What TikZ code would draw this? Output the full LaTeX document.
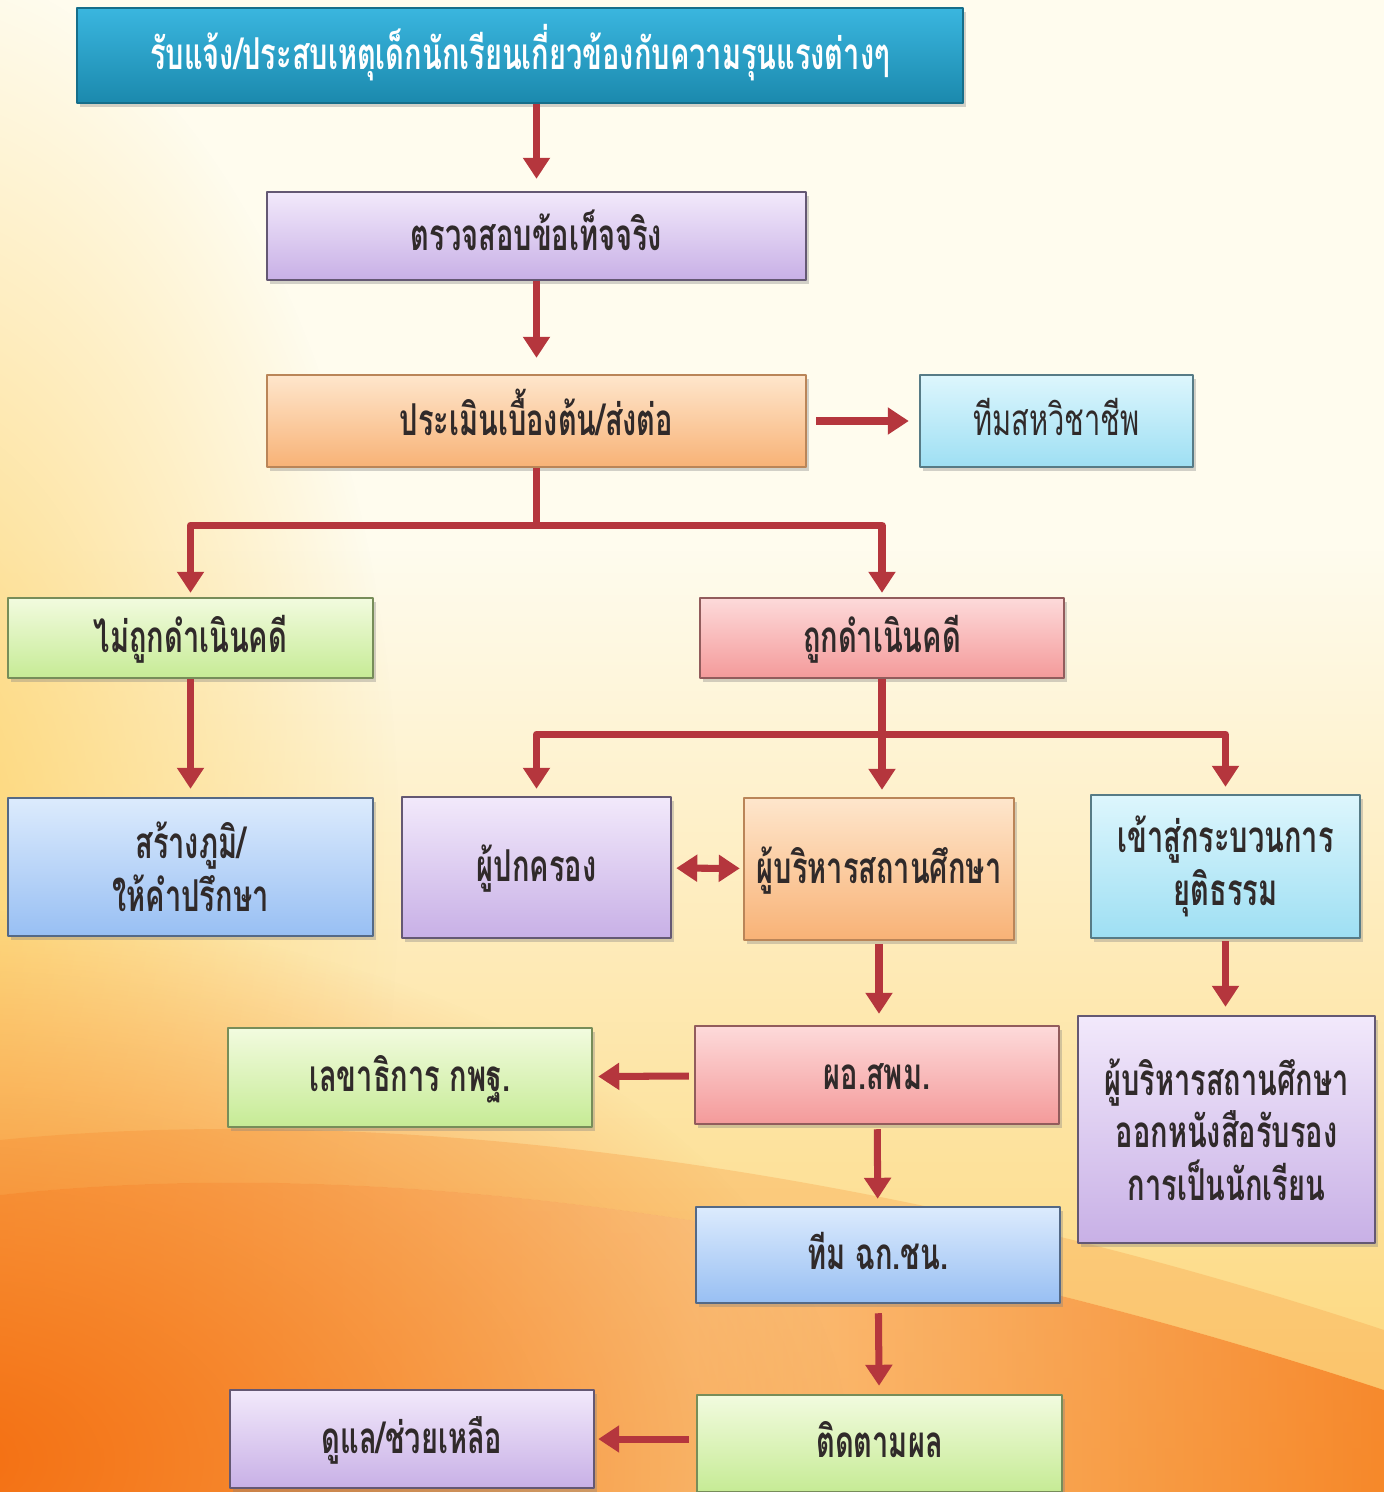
\documentclass[tikz,border=0pt]{standalone}
\usepackage{fontspec}
\newfontfamily\thaifont[Script=Thai,FakeStretch=0.66]{Loma}
\usetikzlibrary{arrows.meta,shadows,fadings}

% Colours
\definecolor{bgcream}{HTML}{FFFCEE}
\definecolor{bgyellow}{HTML}{FDD470}
\definecolor{bgorange}{HTML}{F9A24A}
\definecolor{bgdeep}{HTML}{F46F12}
\definecolor{flowred}{HTML}{B5363D}
\definecolor{txtgrey}{HTML}{302A2A}
\definecolor{tealtop}{HTML}{3AB6DF}
\definecolor{tealbot}{HTML}{1B89AD}
\definecolor{lavtop}{HTML}{F2E9FB}
\definecolor{lavbot}{HTML}{C8B0E6}
\definecolor{peachtop}{HTML}{FEE6CC}
\definecolor{peachbot}{HTML}{F8B276}
\definecolor{cyantop}{HTML}{DDF6FD}
\definecolor{cyanbot}{HTML}{9EDFF3}
\definecolor{greentop}{HTML}{F2FBDF}
\definecolor{greenbot}{HTML}{C6EB95}
\definecolor{pinktop}{HTML}{FDDADA}
\definecolor{pinkbot}{HTML}{F49A9A}
\definecolor{bluetop}{HTML}{DCEBFD}
\definecolor{bluebot}{HTML}{98BFF3}

\tikzfading[name=softspot, inner color=transparent!0, outer color=transparent!100]

\begin{document}
\begin{tikzpicture}[line join=round]
    \tikzstyle{box}=[rectangle, line width=0.7pt, align=center, inner sep=2pt,
        text=txtgrey, font=\thaifont\bfseries\fontsize{12.5pt}{15pt}\selectfont,
        text height=0.38cm, text depth=0.10cm,
        drop shadow={shadow xshift=0.8pt, shadow yshift=-1.2pt, opacity=0.35}]
    \tikzstyle{lines}=[text height={}, text depth={}]
    \tikzstyle{teal box}=[box, draw=tealbot!80!black, top color=tealtop, bottom color=tealbot, text=white]
    \tikzstyle{lav box}=[box, draw=lavbot!50!black, top color=lavtop, bottom color=lavbot]
    \tikzstyle{peach box}=[box, draw=peachbot!75!black, top color=peachtop, bottom color=peachbot]
    \tikzstyle{cyan box}=[box, draw=cyanbot!55!black, top color=cyantop, bottom color=cyanbot]
    \tikzstyle{green box}=[box, draw=greenbot!60!black, top color=greentop, bottom color=greenbot]
    \tikzstyle{pink box}=[box, draw=pinkbot!60!black, top color=pinktop, bottom color=pinkbot]
    \tikzstyle{blue box}=[box, draw=bluebot!55!black, top color=bluetop, bottom color=bluebot]
    \tikzstyle{flow}=[draw=flowred, line width=2pt, -{Triangle[width=2.6mm,length=2.1mm]}]
    \useasboundingbox (0,0) rectangle (13.84,-14.92);

    % Background
    \fill[bgcream] (0,0) rectangle (13.84,-14.92);
    \fill[bgyellow, path fading=north] (0,-5.5) rectangle (13.84,-14.92);
    \fill[bgyellow, path fading=softspot] (-1,-8.6) ellipse (5 and 9);
    \shade[left color=bgorange, right color=bgdeep, middle color=bgorange!75!white, opacity=0.75]
        (0,-11.95) .. controls (4,-11.5) and (9,-12.3) .. (13.84,-13.9)
        -- (13.84,-14.92) -- (0,-14.92) -- cycle;
    \fill[bgorange, opacity=0.35] (0,-11.4) .. controls (4,-11.0) and (9,-11.7) .. (13.84,-13.3)
        -- (13.84,-13.9) .. controls (9,-12.3) and (4,-11.5) .. (0,-11.95) -- cycle;
    \fill[bgdeep, path fading=softspot] (-0.5,-14.6) ellipse (9 and 5.5);

    \path
    % Report and check
    (5.20,-0.555) node[teal box, minimum width=8.86cm, minimum height=0.95cm] (report)
        {รับแจ้ง/ประสบเหตุเด็กนักเรียนเกี่ยวข้องกับความรุนแรงต่างๆ}
    (5.365,-2.36) node[lav box, minimum width=5.39cm, minimum height=0.88cm] (check)
        {ตรวจสอบข้อเท็จจริง}
    (5.365,-4.21) node[peach box, minimum width=5.39cm, minimum height=0.92cm] (assess)
        {ประเมินเบื้องต้น/ส่งต่อ}
    (10.565,-4.21) node[cyan box, minimum width=2.73cm, minimum height=0.92cm, font=\thaifont\fontsize{12.5pt}{15pt}\selectfont] (multi)
        {ทีมสหวิชาชีพ}

    % Not prosecuted / prosecuted
    (1.905,-6.38) node[green box, minimum width=3.65cm, minimum height=0.80cm] (nocase)
        {ไม่ถูกดำเนินคดี}
    (8.82,-6.38) node[pink box, minimum width=3.64cm, minimum height=0.80cm] (incase)
        {ถูกดำเนินคดี}
    (1.905,-8.67) node[blue box, lines, minimum width=3.65cm, minimum height=1.38cm] (counsel)
        {สร้างภูมิ/\\ให้คำปรึกษา}
    (5.365,-8.675) node[lav box, minimum width=2.69cm, minimum height=1.41cm] (parent)
        {ผู้ปกครอง}
    (8.79,-8.69) node[peach box, minimum width=2.70cm, minimum height=1.42cm] (admin)
        {ผู้บริหารสถานศึกษา}
    (12.255,-8.665) node[cyan box, lines, minimum width=2.69cm, minimum height=1.43cm] (justice)
        {เข้าสู่กระบวนการ\\ยุติธรรม}

    % Lower part
    (4.10,-10.775) node[green box, minimum width=3.64cm, minimum height=0.99cm] (obec)
        {เลขาธิการ กพฐ.}
    (8.77,-10.75) node[pink box, minimum width=3.64cm, minimum height=0.98cm] (sesao)
        {ผอ.สพม.}
    (12.265,-11.295) node[lav box, lines, minimum width=2.97cm, minimum height=2.27cm] (cert)
        {ผู้บริหารสถานศึกษา\\ออกหนังสือรับรอง\\การเป็นนักเรียน}
    (8.78,-12.55) node[blue box, minimum width=3.64cm, minimum height=0.96cm] (taskteam)
        {ทีม ฉก.ชน.}
    (4.12,-14.39) node[lav box, minimum width=3.64cm, minimum height=0.98cm] (care)
        {ดูแล/ช่วยเหลือ}
    (8.795,-14.435) node[green box, minimum width=3.65cm, minimum height=0.97cm] (follow)
        {ติดตามผล};

    % Connectors
    \draw[flow, shorten >=1.2mm] (report.south -| check) -- (check);
    \draw[flow, shorten >=1.6mm] (check) -- (assess);
    \draw[flow, shorten <=0.9mm, shorten >=1mm] (assess) -- (multi);
    \draw[draw=flowred, line width=2pt] (assess.south) -- ++(0,-0.57) coordinate (split1);
    \draw[flow, shorten >=0.4mm] (split1) -| (nocase);
    \draw[flow, shorten >=0.4mm] (split1) -| (incase);
    \draw[flow, shorten >=0.8mm] (nocase) -- (counsel);
    \draw[draw=flowred, line width=2pt] (incase.south) -- ++(0,-0.55) coordinate (split2);
    \draw[flow, shorten >=0.7mm] (split2) -| (parent);
    \draw[flow, shorten >=0.7mm] (split2) -- (split2 |- admin.north);
    \draw[flow, shorten >=0.7mm] (split2) -| (justice);
    \draw[flow, {Triangle[width=2.6mm,length=2.1mm]}-{Triangle[width=2.6mm,length=2.1mm]},
        shorten <=0.4mm, shorten >=0.3mm] (parent) -- (admin);
    \draw[flow, shorten >=1.1mm, shorten <=0.3mm] (admin.south) -- (admin.south |- sesao.north);
    \draw[flow, shorten >=0.8mm, shorten <=0.2mm] (justice.south) -- (justice.south |- cert.north);
    \draw[flow, shorten <=0.5mm, shorten >=0.5mm] (sesao) -- (obec);
    \draw[flow, shorten <=0.4mm, shorten >=0.7mm] (sesao) -- (taskteam);
    \draw[flow, shorten <=0.9mm, shorten >=0.8mm] (taskteam) -- (follow);
    \draw[flow, shorten <=0.7mm, shorten >=0.3mm] (follow.west |- care.east) -- (care.east);
\end{tikzpicture}
\end{document}
